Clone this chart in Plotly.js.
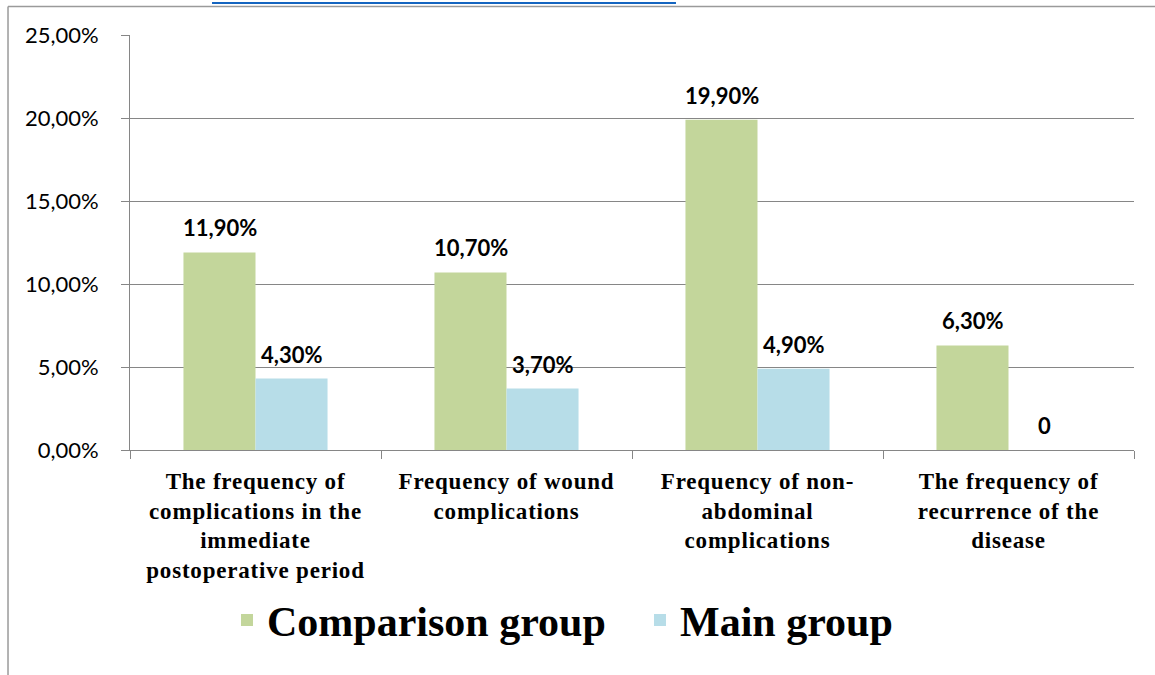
<!DOCTYPE html>
<html>
<head>
<meta charset="utf-8">
<script src="https://cdn.plot.ly/plotly-3.0.1.min.js"></script>
<style>
html,body{margin:0;padding:0;background:#fff;}
#chart{width:1155px;height:675px;}
.xtick text{letter-spacing:0.8px;}
</style>
</head>
<body>
<div id="chart"></div>
<script>
const categories = [
  "The frequency of<br>complications in the<br>immediate<br>postoperative period",
  "Frequency of wound<br>complications",
  "Frequency of non-<br>abdominal<br>complications",
  "The frequency of<br>recurrence of the<br>disease"
];
const comparisonValues = [0.119, 0.107, 0.199, 0.063];
const mainValues = [0.043, 0.037, 0.049, 0];
const comparisonLabels = ["11,90%", "10,70%", "19,90%", "6,30%"];
const mainLabels = ["4,30%", "3,70%", "4,90%", "0"];
const seriesNames = ["Comparison group", "Main group"];
const yTickVals = [0, 0.05, 0.10, 0.15, 0.20, 0.25];

const green = "#C3D69B", blue = "#B7DDE8", grid = "#868686";

const traces = [
  {type: "bar", name: seriesNames[0], x: categories, y: comparisonValues,
   marker: {color: green}, hoverinfo: "none"},
  {type: "bar", name: seriesNames[1], x: categories, y: mainValues,
   marker: {color: blue}, hoverinfo: "none"}
];

const labelFont = {family: "Lato", size: 22, color: "#000", weight: "bold"};
const annotations = [];
categories.forEach((c, i) => {
  annotations.push({x: c, y: comparisonValues[i], xref: "x", yref: "y", text: comparisonLabels[i],
    showarrow: false, xshift: -36, yshift: 9, yanchor: "bottom", font: labelFont});
  annotations.push({x: c, y: mainValues[i], xref: "x", yref: "y", text: mainLabels[i],
    showarrow: false, xshift: 36, yshift: 9, yanchor: "bottom", font: labelFont});
});

const layout = {
  width: 1155, height: 675,
  margin: {l: 130, r: 21, t: 35, b: 225},
  paper_bgcolor: "#fff", plot_bgcolor: "#fff",
  separators: ", ",
  barmode: "group",
  bargap: 0.426,
  bargroupgap: 0,
  showlegend: true,
  legend: {orientation: "h", x: 0.0966, xanchor: "left", y: -0.41, yanchor: "middle",
    font: {family: "Liberation Serif", size: 42, color: "#000", weight: "bold"},
    entrywidth: 368, entrywidthmode: "pixels", itemwidth: 30, traceorder: "normal"},
  xaxis: {type: "category", showline: true, linecolor: grid, linewidth: 1,
    ticks: "outside", tickson: "boundaries", ticklen: 8, tickcolor: grid,
    showgrid: false, zeroline: false, ticklabelstandoff: 10,
    tickfont: {family: "Liberation Serif", size: 23, color: "#000", weight: "bold"}},
  yaxis: {range: [0, 0.25], tickvals: yTickVals, tickformat: ".2%",
    showline: true, linecolor: grid, linewidth: 1, ticks: "outside", ticklen: 8, tickcolor: grid,
    showgrid: true, gridcolor: grid, gridwidth: 1, zeroline: false, ticklabelstandoff: 18,
    tickfont: {family: "Lato", size: 22, color: "#000"}},
  annotations: annotations,
  shapes: [
    {type: "line", xref: "paper", yref: "paper", x0: -0.1215, x1: 1.03, y0: 1.0687, y1: 1.0687,
     line: {color: "#9a9a9a", width: 1.5}},
    {type: "line", xref: "paper", yref: "paper", x0: -0.1215, x1: -0.1215, y0: 1.0687, y1: -0.55,
     line: {color: "#9a9a9a", width: 1.5}},
    {type: "line", xref: "paper", yref: "paper", x0: 0.0817, x1: 0.5438, y0: 1.0771, y1: 1.0771,
     line: {color: "#1565C0", width: 2}}
  ]
};

Plotly.newPlot("chart", traces, layout, {displayModeBar: false, staticPlot: true});
</script>
</body>
</html>
